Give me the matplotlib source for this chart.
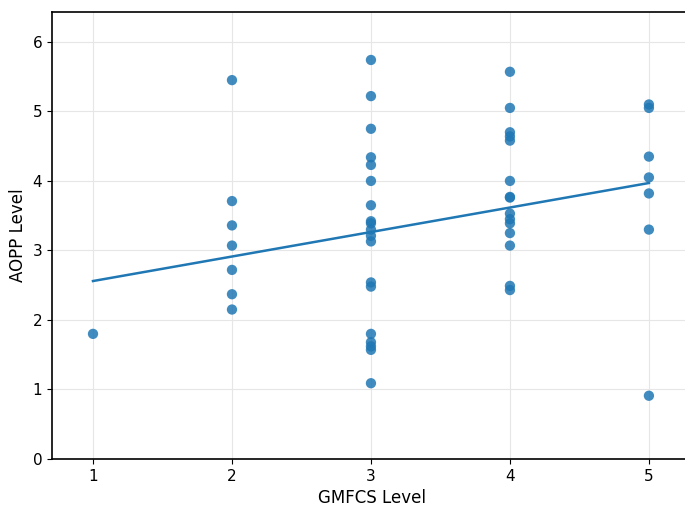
import numpy as np
import matplotlib
matplotlib.use("Agg")
import matplotlib.pyplot as plt

# GMFCS level of each child and the measured AOPP level
gmfcs_1 = [1]
aopp_1 = [1.80]
gmfcs_2 = [2] * 7
aopp_2 = [5.45, 3.71, 3.36, 3.07, 2.72, 2.37, 2.15]
gmfcs_3 = [3] * 19
aopp_3 = [5.74, 5.22, 4.75, 4.34, 4.23, 4.00, 3.65, 3.42, 3.39, 3.30, 3.21, 3.13,
          2.54, 2.48, 1.80, 1.68, 1.62, 1.57, 1.09]
gmfcs_4 = [4] * 15
aopp_4 = [5.57, 5.05, 4.70, 4.64, 4.58, 4.00, 3.77, 3.76, 3.53, 3.45, 3.39, 3.25,
          3.07, 2.49, 2.43]
gmfcs_5 = [5] * 7
aopp_5 = [5.10, 5.05, 4.35, 4.05, 3.82, 3.30, 0.91]

# linea de tendencia (extremos)
fit_x = [1, 5]
fit_y = [2.56, 3.97]

x = np.array(gmfcs_1 + gmfcs_2 + gmfcs_3 + gmfcs_4 + gmfcs_5, dtype=float)
y = np.array(aopp_1 + aopp_2 + aopp_3 + aopp_4 + aopp_5)

fig = plt.figure(figsize=(6.85, 5.07), dpi=100)
ax = fig.add_axes([52 / 685, 48 / 507, 640 / 685, 447 / 507])
ax.scatter(x, y, s=55, color="#1f77b4", alpha=0.85, edgecolors="none", zorder=3)
ax.plot(fit_x, fit_y, color="#1f77b4", lw=1.8, zorder=2)

ax.set_xlim(0.705, 5.31)
ax.set_ylim(0, 6.43)
ax.set_xticks([1, 2, 3, 4, 5])
ax.set_yticks([0, 1, 2, 3, 4, 5, 6])
ax.grid(True, color="#e6e6e6", lw=0.8)
ax.set_axisbelow(True)
ax.tick_params(labelsize=11)
ax.set_xlabel("GMFCS Level", fontsize=12)
ax.set_ylabel("AOPP Level", fontsize=12)
for s in ax.spines.values():
    s.set_linewidth(1.2)

fig.savefig("out.png", dpi=100)
